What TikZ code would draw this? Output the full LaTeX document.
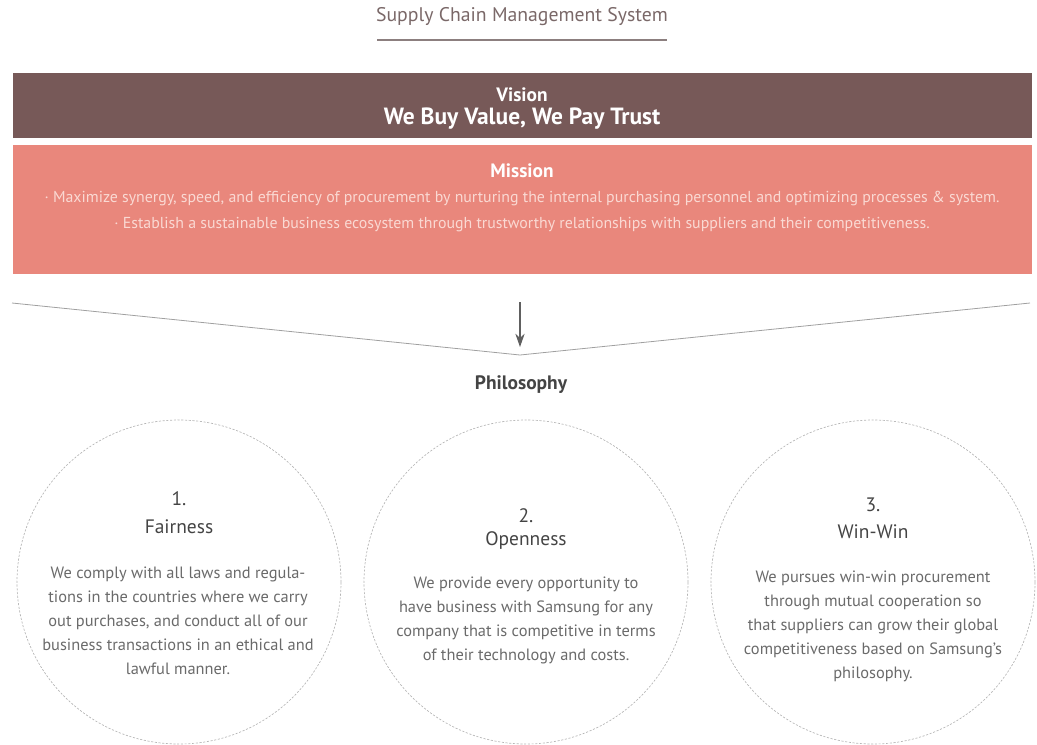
\documentclass[tikz,border=0pt]{standalone}
\usepackage{fontspec}
\setmainfont{PT Sans}
\usetikzlibrary{arrows.meta}
\definecolor{visionc}{HTML}{775958}
\definecolor{missionc}{HTML}{E9877C}
\definecolor{missiontext}{HTML}{FAD9D3}
\definecolor{titlec}{HTML}{7A6868}
\definecolor{rulec}{HTML}{8C7F7F}
\definecolor{headc}{HTML}{444444}
\definecolor{bodyc}{HTML}{6A6A6A}
\definecolor{linec}{HTML}{A0A0A0}
\definecolor{circc}{HTML}{B5B5B5}
\tikzset{
  band/.style={rectangle, inner sep=0pt, minimum width=764.25pt},
  whitebold/.style={text=white, font=\bfseries\fontsize{14.5}{16}\selectfont, inner sep=0pt},
  misstext/.style={text=missiontext, font=\fontsize{11.9}{14}\selectfont, inner sep=0pt},
  philcircle/.style={circle, draw=circc, line width=0.5pt, dash pattern=on 1.6pt off 1.2pt, minimum size=243pt, inner sep=0pt},
  headtext/.style={text=headc, font=\fontsize{14.6}{16}\selectfont, inner sep=0pt},
  bodytext/.style={text=bodyc, font=\fontsize{12.3}{18}\selectfont, align=center, inner sep=0pt},
}
\begin{document}
\begin{tikzpicture}[x=0.75pt,y=-0.75pt]
\useasboundingbox (0,0) rectangle (1037,744);
% title
\node[text=titlec, font=\fontsize{14.8}{16}\selectfont, inner sep=0pt] (title) at (522,16.5) {Supply Chain Management System};
\draw[rulec, line width=1.5pt] (377,40) -- (667,40);
% vision band
\node[band, fill=visionc, minimum height=48.75pt] (vision) at (522.5,105.5) {};
\node[whitebold] (visionlbl) at (522,95) {Vision};
\node[text=white, font=\bfseries\fontsize{17.6}{20}\selectfont, inner sep=0pt] (visiontxt) at (522,118.5) {We Buy Value, We Pay Trust};
% mission band
\node[band, fill=missionc, minimum height=96.75pt] (mission) at (522.5,209.5) {};
\node[whitebold] (missionlbl) at (522,171) {Mission};
\node[misstext] (m1) at (522,199) {· Maximize synergy, speed, and efficiency of procurement by nurturing the internal purchasing personnel and optimizing processes \& system.};
\node[misstext] (m2) at (522,225) {· Establish a sustainable business ecosystem through trustworthy relationships with suppliers and their competitiveness.};
% funnel lines and arrow
\coordinate (fl) at (12,303);
\coordinate (fv) at (520,355);
\coordinate (fr) at (1030,303);
\draw[linec, line width=0.6pt] (fl) -- (fv) -- (fr);
\coordinate (a1) at (520,302);
\coordinate (a2) at (520,347);
\draw[headc!85, line width=0.9pt, -{Stealth[length=10pt,width=7pt]}] (a1) -- (a2);
\node[text=headc, font=\bfseries\fontsize{14.6}{16}\selectfont, inner sep=0pt] (phil) at (521,385) {Philosophy};
% circles
\node[philcircle] (c1) at (179,582) {};
\node[philcircle] (c2) at (526,582) {};
\node[philcircle] (c3) at (873,582) {};
% circle 1
\node[headtext] (n1) at (179,499) {1.};
\node[headtext] (t1) at (179,527) {Fairness};
\node[bodytext] (b1) at (178,621) {We comply with all laws and regula-\\tions in the countries where we carry\\out purchases, and conduct all of our\\business transactions in an ethical and\\lawful manner.};
% circle 2
\node[headtext] (n2) at (526,516) {2.};
\node[headtext] (t2) at (526,540) {Openness};
\node[bodytext] (b2) at (526,620) {We provide every opportunity to\\have business with Samsung for any\\company that is competitive in terms\\of their technology and costs.};
% circle 3
\node[headtext] (n3) at (873,505) {3.};
\node[headtext] (t3) at (873,532) {Win-Win};
\node[bodytext] (b3) at (873,626) {We pursues win-win procurement\\through mutual cooperation so\\that suppliers can grow their global\\competitiveness based on Samsung's\\philosophy.};
\end{tikzpicture}
\end{document}
